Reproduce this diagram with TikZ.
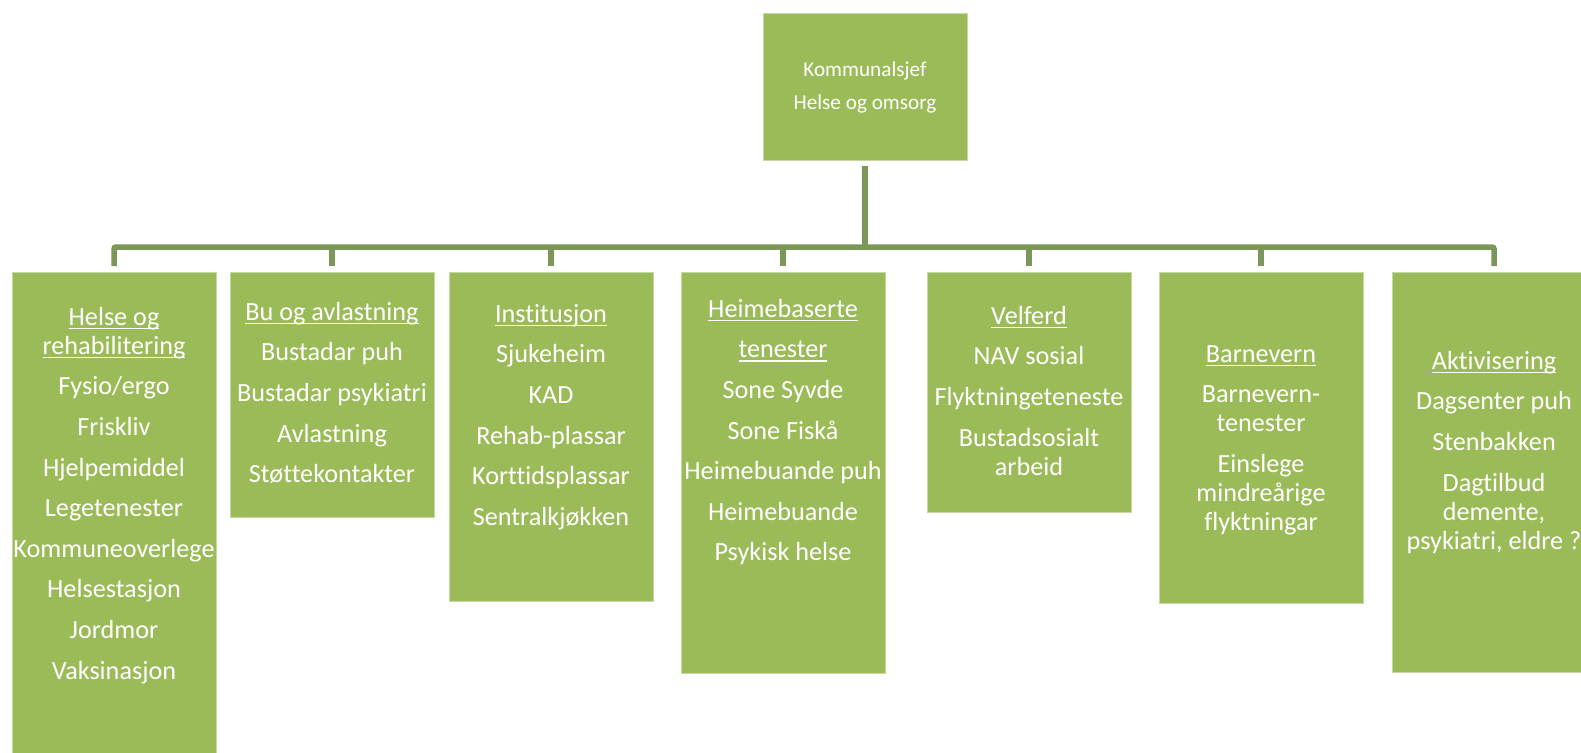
\documentclass[tikz,border=0pt]{standalone}
\usepackage{fontspec}
\setmainfont{Carlito}[Ligatures=NoCommon]
\definecolor{boxgreen}{RGB}{155,187,89}
\definecolor{boxedge}{RGB}{196,216,160}
\definecolor{linegreen}{RGB}{122,150,89}
\newcommand\myul[1]{\setbox0=\hbox{#1}\rlap{\vrule height -0.09em depth 0.15em width \wd0}\box0}
\begin{document}
\begin{tikzpicture}[x=1pt,y=-1pt,
  box/.style={fill=boxgreen, draw=boxedge, line width=0.7pt, anchor=north west, inner sep=0pt, outer sep=0pt, minimum width=204pt},
  conn/.style={draw=linegreen, line width=5.5pt},
  txt/.style={text=white, align=center, anchor=north, inner sep=0pt, font=\fontsize{26.2}{29}\selectfont},
  toptxt/.style={text=white, align=center, anchor=north, inner sep=0pt, font=\fontsize{21.2}{33}\selectfont}]
\useasboundingbox (0,0) rectangle (1581,752);
\clip (0,0) rectangle (1581,752);
\fill[white] (0,0) rectangle (1581,752);

% boxes
\node[box, minimum height=147pt] (top) at (763,13) {};
\node[box, minimum height=490pt] (b1) at (12,272) {};
\node[box, minimum height=245pt] (b2) at (230,272) {};
\node[box, minimum height=329pt] (b3) at (449,272) {};
\node[box, minimum height=401pt] (b4) at (681,272) {};
\node[box, minimum height=240pt] (b5) at (927,272) {};
\node[box, minimum height=331pt] (b6) at (1159,272) {};
\node[box, minimum height=400pt] (b7) at (1392,272) {};

% connectors
\coordinate (bar) at (865,247);
\draw[conn] ([yshift=-6pt]top.south) -- (top.south |- bar);
\draw[conn, rounded corners=2pt] ([yshift=6pt]b1.north) -- (b1.north |- bar) -- (b7.north |- bar) -- ([yshift=6pt]b7.north);
\draw[conn] (b2.north |- bar) -- ([yshift=6pt]b2.north);
\draw[conn] (b3.north |- bar) -- ([yshift=6pt]b3.north);
\draw[conn] (b4.north |- bar) -- ([yshift=6pt]b4.north);
\draw[conn] (b5.north |- bar) -- ([yshift=6pt]b5.north);
\draw[conn] (b6.north |- bar) -- ([yshift=6pt]b6.north);

% texts
\node[toptxt] (ttop) at (865,59) {\rule{0pt}{17pt}Kommunalsjef\\Helse og omsorg};
\node[txt] (t1) at (114,304) {\rule{0pt}{21pt}\myul{Helse og}\\\myul{rehabilitering}\\[11.6pt]Fysio/ergo\\[11.6pt]Friskliv\\[11.6pt]Hjelpemiddel\\[11.6pt]Legetenester\\[11.6pt]Kommuneoverlege\\[11.6pt]Helsestasjon\\[11.6pt]Jordmor\\[11.6pt]Vaksinasjon};
\node[txt] (t2) at (332,299) {\rule{0pt}{21pt}\myul{Bu og avlastning}\\[11.6pt]Bustadar puh\\[11.6pt]Bustadar psykiatri\\[11.6pt]Avlastning\\[11.6pt]Støttekontakter};
\node[txt] (t3) at (551,301) {\rule{0pt}{21pt}\myul{Institusjon}\\[11.6pt]Sjukeheim\\[11.6pt]KAD\\[11.6pt]Rehab-plassar\\[11.6pt]Korttidsplassar\\[11.6pt]Sentralkjøkken};
\node[txt] (t4) at (783,296) {\rule{0pt}{21pt}\myul{Heimebaserte}\\[11.6pt]\myul{tenester}\\[11.6pt]Sone Syvde\\[11.6pt]Sone Fiskå\\[11.6pt]Heimebuande puh\\[11.6pt]Heimebuande\\[11.6pt]Psykisk helse};
\node[txt] (t5) at (1029,303) {\rule{0pt}{21pt}\myul{Velferd}\\[11.6pt]NAV sosial\\[11.6pt]Flyktningeteneste\\[11.6pt]Bustadsosialt\\arbeid};
\node[txt] (t6) at (1261,341) {\rule{0pt}{21pt}\myul{Barnevern}\\[11.6pt]Barnevern-\\tenester\\[11.6pt]Einslege\\mindreårige\\flyktningar};
\node[txt] (t7) at (1494,348) {\rule{0pt}{21pt}\myul{Aktivisering}\\[11.6pt]Dagsenter puh\\[11.6pt]Stenbakken\\[11.6pt]Dagtilbud\\demente,\\psykiatri, eldre ?};
\end{tikzpicture}
\end{document}
